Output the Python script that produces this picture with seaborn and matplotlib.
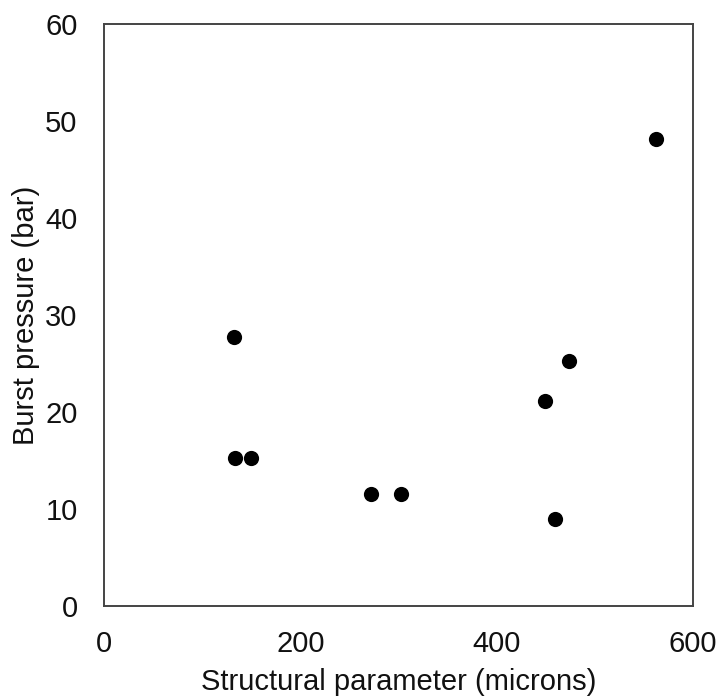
import matplotlib
matplotlib.use("Agg")
import matplotlib.pyplot as plt
import seaborn as sns
import pandas as pd

structural_parameter = [132.7, 133.5, 149.4, 271.6, 302.7, 449.2, 473.7, 459.4, 562.3]
burst_pressure = [27.7, 15.3, 15.3, 11.6, 11.6, 21.1, 25.3, 9.0, 48.1]
x_ticks = [0, 200, 400, 600]
y_ticks = [0, 10, 20, 30, 40, 50, 60]

sns.set_theme(style="white")
plt.rcParams['font.family'] = ['Liberation Sans', 'DejaVu Sans']

df = pd.DataFrame({"x": structural_parameter, "y": burst_pressure})

fig = plt.figure(figsize=(7.21, 6.99), dpi=100)
ax = fig.add_axes([0.1442, 0.1330, 0.9612 - 0.1442, 0.9657 - 0.1330])
sns.scatterplot(data=df, x="x", y="y", ax=ax, color="black", s=120, edgecolor="black", linewidth=0)

ax.set_xlim(0, 600)
ax.set_ylim(0, 60)
ax.set_xticks(x_ticks)
ax.set_yticks(y_ticks)
ax.tick_params(axis="x", length=0, labelsize=21, colors="#111111", pad=17.5)
ax.tick_params(axis="y", length=0, labelsize=21, colors="#111111", pad=19)
ax.set_xlabel("Structural parameter (microns)", fontsize=21, color="#111111", labelpad=7)
ax.set_ylabel("Burst pressure (bar)", fontsize=21, color="#111111", labelpad=4)
for sp in ax.spines.values():
    sp.set_color("#444444")
    sp.set_linewidth(1.4)

fig.savefig("out.png", dpi=100)
